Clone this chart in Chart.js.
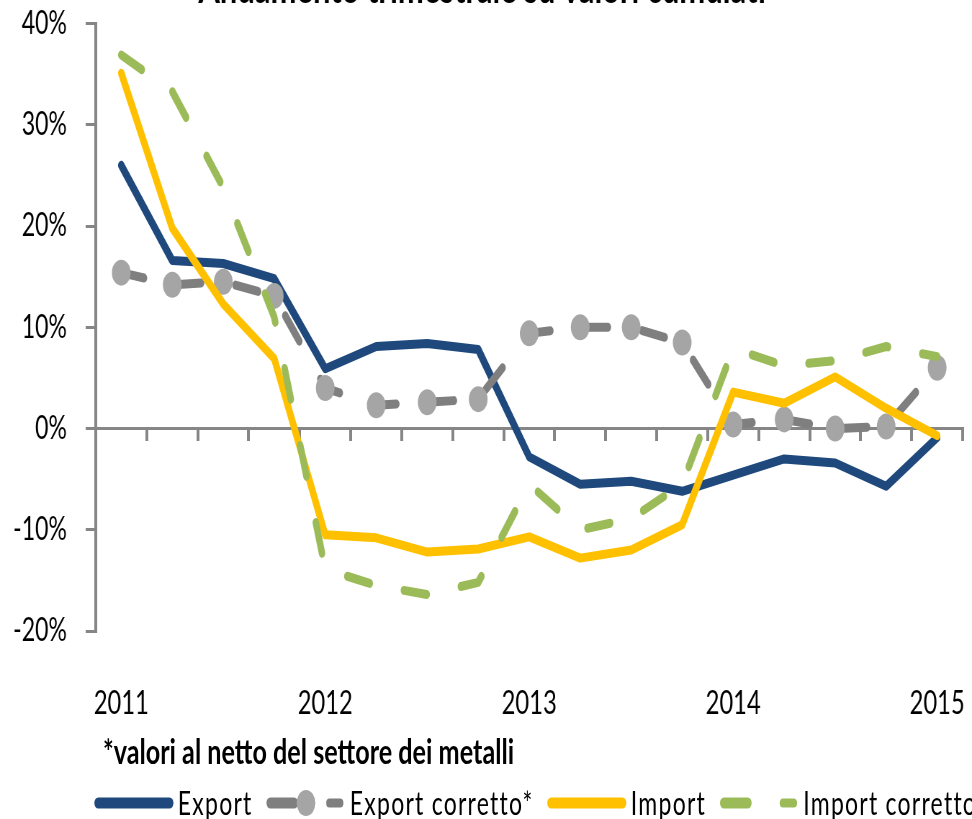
<!DOCTYPE html>
<html>
<head>
<meta charset="utf-8">
<script src="https://cdn.jsdelivr.net/npm/chart.js@4.4.1/dist/chart.umd.min.js"></script>
<style>
  html, body { margin: 0; padding: 0; background: #fff; width: 972px; height: 819px; overflow: hidden; }
  /* the original picture is squeezed horizontally, so the whole page is drawn wide and squeezed */
  #page { position: absolute; left: 0; top: 0; width: 1350px; height: 819px; transform: scaleX(0.72); transform-origin: 0 0; }
  #wrap { position: absolute; left: 0; top: -37px; width: 1350px; height: 778px; }
  #note { position: absolute; left: 143px; top: 733px; font: bold 35px Lato, sans-serif; line-height: 1; color: #000; white-space: nowrap; }
  #legend { position: absolute; left: 131px; top: 783px; height: 40px; display: flex; align-items: center; white-space: nowrap; font: 32px Lato, sans-serif; letter-spacing: 1.7px; line-height: 1; color: #000; }
  .item { display: flex; align-items: center; margin-right: 19px; }
  .swatch { position: relative; width: 110px; height: 30px; margin-right: 6px; flex: none; }
  .swatch span { position: absolute; top: 50%; transform: translateY(-50%); }
</style>
</head>
<body>
<div id="page">
  <div id="wrap"><canvas id="myChart"></canvas></div>
  <div id="note">*valori al netto del settore dei metalli</div>
  <div id="legend"></div>
</div>
<script>
// quarters from 2011 Q1 to 2015 Q1
const quarters = ['2011 T1','2011 T2','2011 T3','2011 T4','2012 T1','2012 T2','2012 T3','2012 T4',
                  '2013 T1','2013 T2','2013 T3','2013 T4','2014 T1','2014 T2','2014 T3','2014 T4','2015 T1'];
const yearLabels = ['2011','2012','2013','2014','2015'];

const seriesNames = ['Export', 'Export corretto*', 'Import', 'Import corretto'];
const exportVals     = [26.0, 16.6, 16.3, 14.8, 5.9, 8.1, 8.4, 7.8, -2.8, -5.5, -5.2, -6.2, -4.6, -3.0, -3.4, -5.7, -0.9];
const exportCorretto = [15.4, 14.2, 14.5, 13.1, 4.0, 2.3, 2.6, 2.9, 9.4, 10.0, 10.0, 8.5, 0.4, 0.9, 0.0, 0.2, 6.0];
const importVals     = [35.1, 19.8, 12.3, 6.9, -10.5, -10.8, -12.2, -11.9, -10.7, -12.8, -12.0, -9.5, 3.6, 2.5, 5.1, 2.0, -0.7];
const importCorretto = [36.9, 33.3, 23.8, 11.0, -13.9, -15.5, -16.4, -15.2, -5.5, -10.0, -8.9, -5.5, 7.9, 6.2, 6.7, 8.1, 7.1];

const yMin = -20, yMax = 40, yStep = 10;

Chart.defaults.font.family = 'Lato, sans-serif';
Chart.defaults.color = '#000000';

const axisGrey = '#868686';
const longDash = [32, 48];

const data = {
  labels: quarters,
  datasets: [{
    label: seriesNames[0],
    data: exportVals,
    borderColor: '#1F497D',
    borderWidth: 9,
    pointRadius: 0,
    order: 4
  }, {
    label: seriesNames[1],
    data: exportCorretto,
    borderColor: '#7F7F7F',
    borderWidth: 9,
    borderDash: longDash,
    pointRadius: 13,
    pointHoverRadius: 13,
    pointBackgroundColor: '#A5A5A5',
    pointBorderWidth: 0,
    order: 3
  }, {
    label: seriesNames[2],
    data: importVals,
    borderColor: '#FFC000',
    borderWidth: 9,
    pointRadius: 0,
    order: 2
  }, {
    label: seriesNames[3],
    data: importCorretto,
    borderColor: '#9BBB59',
    borderWidth: 9,
    borderDash: longDash,
    pointRadius: 0,
    order: 1
  }]
};

data.datasets.forEach(ds => {
  ds.fill = false;
  ds.tension = 0;
  ds.borderCapStyle = 'round';
  ds.borderJoinStyle = 'round';
  ds.xAxisID = 'x';
});

const config = {
  type: 'line',
  data: data,
  options: {
    responsive: true,
    maintainAspectRatio: false,
    animation: false,
    events: [],
    layout: { padding: { left: 0, right: 11, top: 0, bottom: 0 } },
    plugins: {
      legend: { display: false },
      tooltip: { enabled: false },
      title: {
        display: true,
        text: 'Andamento trimestrale su valori cumulati',
        font: { size: 43, weight: 'bold' },
        color: '#000',
        padding: { top: 0, bottom: 9 }
      }
    },
    scales: {
      x: {
        type: 'category',
        position: 'bottom',
        offset: true,
        grid: { display: false },
        border: { display: false },
        ticks: {
          autoSkip: false,
          maxRotation: 0,
          padding: 45,
          font: { size: 33 },
          color: '#000',
          callback: (val, i) => (i % 4 === 0 ? yearLabels[i / 4] : '')
        },
        // the 2015 label is allowed to run off the edge, as in the original
        afterFit: (scale) => { scale.height = 110; scale.paddingLeft = 0; scale.paddingRight = 0; }
      },
      // the zero line with its tick marks
      x0: {
        type: 'category',
        axis: 'x',
        position: { y: 0 },
        offset: true,
        grid: { offset: true, drawOnChartArea: false, tickLength: 11, lineWidth: 4, color: axisGrey },
        border: { color: axisGrey, width: 3 },
        ticks: { display: false }
      },
      y: {
        min: yMin,
        max: yMax,
        grid: { drawOnChartArea: false, tickLength: 14, lineWidth: 3, color: axisGrey },
        border: { color: axisGrey, width: 4 },
        ticks: {
          stepSize: yStep,
          padding: 26,
          font: { size: 32 },
          color: '#000',
          callback: (v) => v + '%'
        },
        afterFit: (scale) => { scale.width = 133; }
      }
    }
  }
};

const myChart = new Chart(document.getElementById('myChart'), config);

// legend built from the datasets, with Excel style line samples
function piece(left, width, height, colour, round) {
  const s = document.createElement('span');
  s.style.left = left + 'px';
  s.style.width = width + 'px';
  s.style.height = height + 'px';
  s.style.background = colour;
  s.style.borderRadius = round ? '50%' : (height / 2) + 'px';
  return s;
}

const legendBox = document.getElementById('legend');
myChart.data.datasets.forEach(ds => {
  const item = document.createElement('div');
  item.className = 'item';
  const sw = document.createElement('div');
  sw.className = 'swatch';
  if (ds.borderDash) {
    sw.appendChild(piece(0, 44, 11, ds.borderColor));
    sw.appendChild(piece(83, 24, 9, ds.borderColor));
    if (ds.pointRadius) sw.appendChild(piece(42, 26, 26, ds.pointBackgroundColor, true));
  } else {
    sw.appendChild(piece(0, 110, 11, ds.borderColor));
  }
  const txt = document.createElement('span');
  txt.textContent = ds.label;
  item.appendChild(sw);
  item.appendChild(txt);
  legendBox.appendChild(item);
});
</script>
</body>
</html>
